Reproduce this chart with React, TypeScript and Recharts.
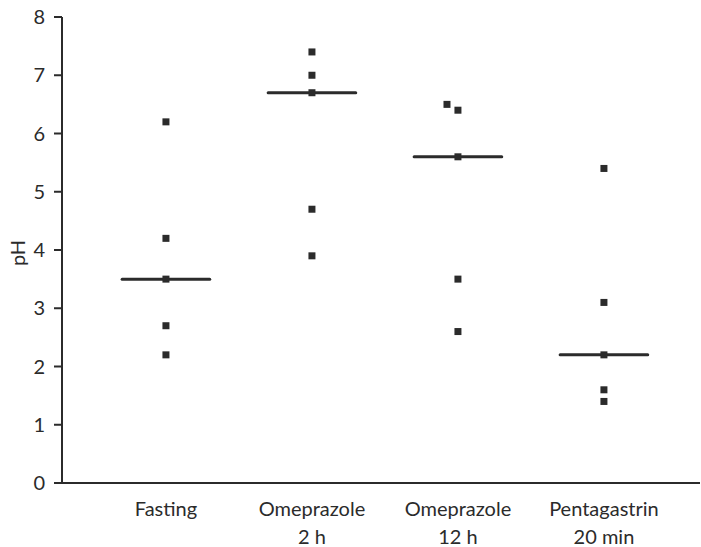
import React from "react";
import { ScatterChart, Scatter, XAxis, YAxis, ReferenceLine, Label } from "recharts";

const categories: string[][] = [
  ["Fasting"],
  ["Omeprazole", "2 h"],
  ["Omeprazole", "12 h"],
  ["Pentagastrin", "20 min"],
];
const categoryPositions = [1, 2, 3, 4];

const fasting = [
  { x: 1, y: 6.2 },
  { x: 1, y: 4.2 },
  { x: 1, y: 3.5 },
  { x: 1, y: 2.7 },
  { x: 1, y: 2.2 },
];
const omeprazole2h = [
  { x: 2, y: 7.4 },
  { x: 2, y: 7.0 },
  { x: 2, y: 6.7 },
  { x: 2, y: 4.7 },
  { x: 2, y: 3.9 },
];
const omeprazole12h = [
  { x: 2.925, y: 6.5 },
  { x: 3, y: 6.4 },
  { x: 3, y: 5.6 },
  { x: 3, y: 3.5 },
  { x: 3, y: 2.6 },
];
const pentagastrin = [
  { x: 4, y: 5.4 },
  { x: 4, y: 3.1 },
  { x: 4, y: 2.2 },
  { x: 4, y: 1.6 },
  { x: 4, y: 1.4 },
];
const medians = [3.5, 6.7, 5.6, 2.2];
const medianHalfWidth = 0.3;
const yTicks = [0, 1, 2, 3, 4, 5, 6, 7, 8];

const INK = "#2b2b2b";
const FONT = "Lato, 'Open Sans', sans-serif";

const Square = (props: any) => {
  const { cx, cy } = props;
  if (cx == null || cy == null) return null;
  return <rect x={cx - 3.5} y={cy - 3.5} width={7} height={7} fill={INK} />;
};

const CategoryTick = (props: any) => {
  const { x, y, payload } = props;
  const idx = categoryPositions.indexOf(payload.value);
  const lines = idx >= 0 ? categories[idx] : [];
  return (
    <g transform={`translate(${x},${y})`}>
      <text textAnchor="middle" fontSize={20} fill={INK} fontFamily={FONT}>
        {lines.map((l, i) => (
          <tspan key={i} x={0} dy={i === 0 ? 25 : 28}>
            {l}
          </tspan>
        ))}
      </text>
    </g>
  );
};

export default function App() {
  const series = [fasting, omeprazole2h, omeprazole12h, pentagastrin];
  return (
    <div style={{ position: "absolute", left: 0, top: 0, background: "#fff" }}>
      <ScatterChart
        width={701}
        height={547}
        margin={{ top: 17, right: 1, bottom: 0, left: 0 }}
      >
        <XAxis
          type="number"
          dataKey="x"
          domain={[0.288, 4.658]}
          allowDataOverflow
          ticks={categoryPositions}
          tick={<CategoryTick />}
          tickLine={false}
          axisLine={{ stroke: INK, strokeWidth: 2 }}
          height={64}
          interval={0}
        />
        <YAxis
          type="number"
          dataKey="y"
          domain={[0, 8]}
          ticks={yTicks}
          width={62}
          tickSize={8}
          tickMargin={9}
          tick={{ fontSize: 20, fill: INK, fontFamily: FONT }}
          tickLine={{ stroke: INK, strokeWidth: 2 }}
          axisLine={{ stroke: INK, strokeWidth: 2 }}
          interval={0}
        >
          <Label
            value="pH"
            angle={-90}
            position="center"
            dx={-13}
            dy={3}
            style={{ fontSize: 20, fill: INK, fontFamily: FONT }}
          />
        </YAxis>
        {medians.map((m, i) => (
          <ReferenceLine
            key={"m" + i}
            segment={[
              { x: categoryPositions[i] - medianHalfWidth, y: m },
              { x: categoryPositions[i] + medianHalfWidth, y: m },
            ]}
            stroke={INK}
            strokeWidth={3}
            strokeLinecap="round"
          />
        ))}
        {series.map((d, i) => (
          <Scatter
            key={"s" + i}
            data={d}
            shape={<Square />}
            isAnimationActive={false}
          />
        ))}
      </ScatterChart>
    </div>
  );
}
